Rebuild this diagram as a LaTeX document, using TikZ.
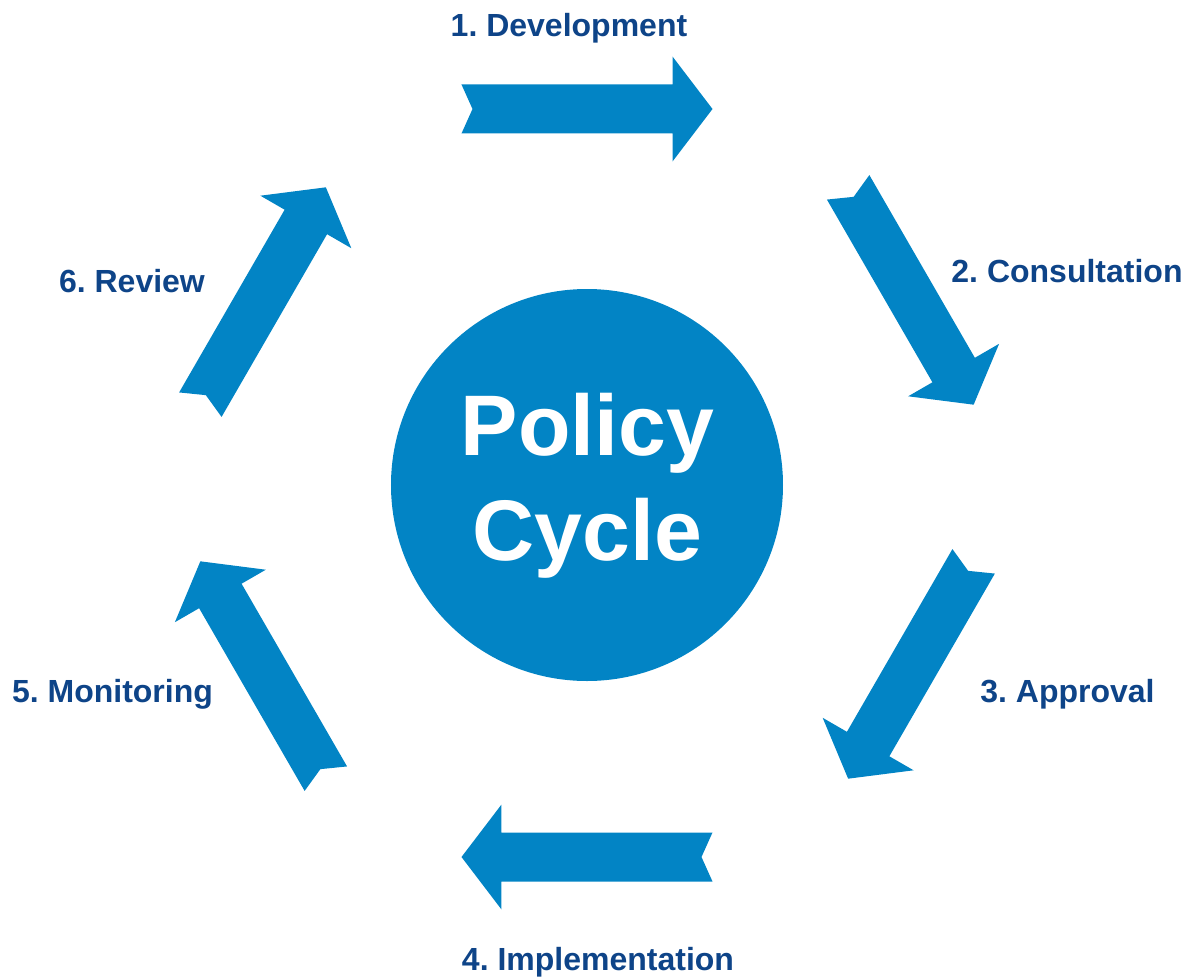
\documentclass[tikz,border=0pt]{standalone}
\usepackage{fontspec}
\setmainfont{Liberation Sans}
\frenchspacing

\definecolor{cycleblue}{RGB}{2,132,197}
\definecolor{labelblue}{RGB}{14,68,136}

\begin{document}
\begin{tikzpicture}[x=1pt, y=1pt,
    steplabel/.style={anchor=base, text=labelblue, font=\fontsize{32}{38}\selectfont\bfseries},
    titletext/.style={anchor=base, text=white, font=\fontsize{86}{104}\selectfont\bfseries}]

    \useasboundingbox (-587,-495) rectangle (607,483);

    % --------------------------
    % 中心圆
    % --------------------------
    \fill[cycleblue] (0,-2) circle (196);
    \node[titletext] (policy) at (0.5,28) {Policy};
    \node[titletext] (cycle) at (0.5,-77) {Cycle};

    % --------------------------
    % 六个箭头（顺时针）
    % --------------------------
    \foreach \ang in {90,30,-30,-90,-150,150} {
        \begin{scope}[shift={(\ang:374)}, rotate=\ang-90]
            \fill[cycleblue] (-125.5,24.5) -- (85.5,24.5) -- (85.5,52.5) -- (125.5,0)
                -- (85.5,-52.5) -- (85.5,-24.5) -- (-125.5,-24.5) -- (-114.5,0) -- cycle;
        \end{scope}
    }

    % --------------------------
    % 步骤标签
    % --------------------------
    \node[steplabel] (dev) at (-18,446) {1. Development};
    \node[steplabel] (cons) at (480,201) {2. Consultation};
    \node[steplabel] (appr) at (480.5,-219) {3. Approval};
    \node[steplabel] (impl) at (11,-487) {4. Implementation};
    \node[steplabel] (mon) at (-474.5,-219) {5. Monitoring};
    \node[steplabel] (rev) at (-455,191) {6. Review};

\end{tikzpicture}
\end{document}
